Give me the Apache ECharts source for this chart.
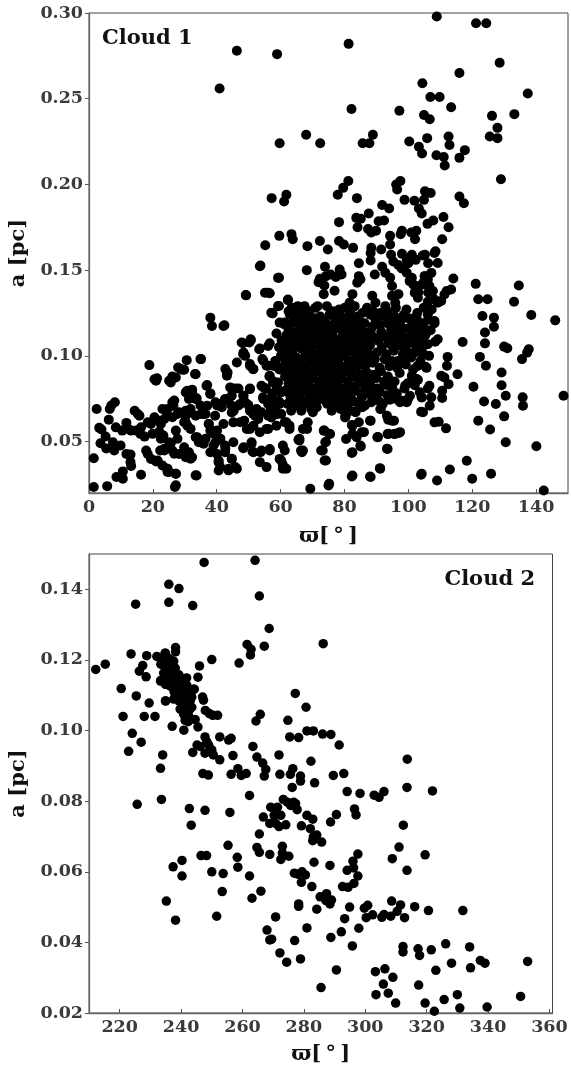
<!DOCTYPE html>
<html>
<head>
<meta charset="utf-8">
<script src="https://cdn.jsdelivr.net/npm/echarts@6/dist/echarts.min.js"></script>
<style>
html,body{margin:0;padding:0;background:#fff;}
#chart{width:571px;height:1066px;}
</style>
</head>
<body>
<div id="chart"></div>
<script>
// ---- tick labels ----
const xTicks1 = [0, 20, 40, 60, 80, 100, 120, 140];
const yTicks1 = [0.05, 0.10, 0.15, 0.20, 0.25, 0.30];
const xTicks2 = [220, 240, 260, 280, 300, 320, 340, 360];
const yTicks2 = [0.02, 0.04, 0.06, 0.08, 0.10, 0.12, 0.14];
const panelLabels = ['Cloud 1', 'Cloud 2'];
const xTitle = 'ϖ[\u2009°\u2009]';
const yTitle = 'a [pc]';

// ---- Cloud 1 : [omega (deg), a (pc)] ----
const cloud1Upper = [
[46.3,0.278],[58.9,0.276],[40.9,0.256],[59.7,0.224],[57.2,0.192],[61.8,0.194],[61.1,0.190],[59.6,0.170],[63.4,0.171],[63.8,0.168],[55.2,0.1645],
[108.9,0.298],[121.2,0.294],[124.4,0.294],[81.3,0.282],[128.6,0.271],[116.0,0.265],[104.4,0.259],[106.9,0.251],[109.8,0.251],[137.4,0.253],[113.4,0.245],[82.2,0.244],[97.2,0.243],[104.9,0.2405],[106.7,0.238],[126.2,0.240],[133.2,0.241],[127.9,0.233],[125.5,0.228],[127.9,0.227],[68.0,0.229],[72.4,0.224],[85.7,0.224],[87.8,0.224],[88.9,0.229],[100.3,0.225],[103.3,0.222],[104.3,0.218],[105.9,0.227],[112.6,0.228],[112.9,0.223],[117.7,0.220],[116.0,0.2155],[108.8,0.217],[111.1,0.216],[111.4,0.211],[129.0,0.203],[81.2,0.202],[79.6,0.198],[77.9,0.194],[83.9,0.192],[96.2,0.200],[97.5,0.202],[96.5,0.197],[98.8,0.191],[101.9,0.1905],[104.9,0.191],[105.2,0.196],[107.0,0.195],[103.3,0.186],[104.2,0.183],[116.0,0.193],[117.4,0.189],[91.8,0.188],[94.0,0.186],[87.6,0.183],[78.3,0.178],[83.7,0.1805],[85.1,0.180],[84.1,0.175],[90.7,0.1785],[92.4,0.179],[106.0,0.177],[107.8,0.179],[111.0,0.181],[112.6,0.175],[110.6,0.168],[88.4,0.172],[89.9,0.173],[87.4,0.174],[98.0,0.173],[102.5,0.173],[100.9,0.172],[94.3,0.170],[97.6,0.171],[102.1,0.168],[72.3,0.167],[68.4,0.164],[74.8,0.162],[78.3,0.167],[79.8,0.165],[82.7,0.163],[88.4,0.163],[91.5,0.162],[94.3,0.165],[108.5,0.161],[104.5,0.1585]
];
const cloud1Middle = [
[88.2,0.160],[88.2,0.1556],[94.6,0.159],[95.3,0.155],[98.0,0.1595],[99.5,0.156],[101.1,0.159],[102.3,0.156],[105.2,0.159],[106.2,0.154],[84.5,0.154],[73.9,0.152],[68.2,0.150],[72.3,0.145],[71.9,0.143],[73.7,0.141],[74.2,0.1465],[75.7,0.1475],[77.3,0.146],[78.5,0.1504],[79.1,0.1475],[76.9,0.138],[73.5,0.136],[84.5,0.1465],[85.0,0.1446],[84.0,0.1427],[89.5,0.1475],[91.8,0.152],[92.8,0.1485],[94.3,0.1456],[94.9,0.1407],[96.9,0.153],[97.9,0.151],[100.0,0.154],[99.5,0.1485],[101.1,0.1456],[102.6,0.1407],[103.1,0.137],[104.7,0.1427],[105.2,0.1465],[106.2,0.137],[82.5,0.136],[81.6,0.131],[88.7,0.135],[89.7,0.131],[94.9,0.135],[95.9,0.131],[96.9,0.136],[92.8,0.129],[91.2,0.125],
[63.9,0.127],[65.4,0.129],[67.5,0.129],[71.6,0.129],[76.3,0.126],[78.3,0.127],[81.9,0.127],[84.0,0.123],[85.6,0.125],[87.1,0.128],[89.7,0.121],[88.7,0.117],[94.3,0.121],[95.4,0.117],[96.9,0.120],[97.9,0.1165],[100.5,0.1155],[102.6,0.122],[104.7,0.117],[106.2,0.121],[67.0,0.121],[69.0,0.120],[71.1,0.119],[65.9,0.117],[72.6,0.117],[74.2,0.119],[75.7,0.1155],[77.8,0.120],[79.4,0.118],[80.9,0.117],[83.5,0.117],[85.0,0.1145],[86.6,0.1136],
[63.9,0.1136],[64.9,0.1097],[66.4,0.1116],[68.0,0.1078],[69.5,0.1116],[71.1,0.1097],[73.2,0.1087],[74.7,0.1116],[76.3,0.1078],[78.3,0.1097],[80.4,0.1116],[81.9,0.1078],[84.0,0.1097],[85.6,0.1058],[87.6,0.1078],[89.2,0.1107],[90.7,0.1087],[92.3,0.1116],[93.8,0.1078],[95.9,0.1097],[97.4,0.1078],[98.9,0.1107],[101.0,0.1078],[103.1,0.1097],[105.2,0.1068],
[112.0,0.1378],[111.3,0.1358],[113.4,0.1387],[106.1,0.1316],[108.2,0.1329],[110.3,0.132],[109.2,0.131],[107.7,0.1378],[106.6,0.1407],[104.6,0.1417],[103.0,0.1397],[102.0,0.1368],[103.0,0.1339],[102.0,0.1223],[105.1,0.1465],[106.1,0.1446],[107.2,0.1484],[108.2,0.160],[109.2,0.1542],[100.4,0.1436],[101.5,0.1417]
];
const cloud1Core = [
[63.5,0.128],[65.2,0.127],[70.9,0.128],[74.5,0.129],[80.1,0.128],[83.2,0.129],[86.9,0.127],[96.1,0.128],[99.4,0.127],[104.8,0.128],[107.3,0.127],
[62.9,0.124],[66.1,0.125],[68.7,0.124],[72.4,0.123],[75.3,0.124],[78.9,0.123],[81.6,0.124],[88.1,0.124],[92.9,0.123],[98.6,0.124],[102.8,0.125],[106.1,0.124],
[64.0,0.120],[69.8,0.121],[73.5,0.120],[80.2,0.121],[82.9,0.120],[86.3,0.119],[93.4,0.119],[97.8,0.121],[101.2,0.120],[104.5,0.119],
[62.4,0.116],[68.3,0.115],[71.2,0.116],[74.8,0.117],[78.4,0.116],[81.1,0.115],[84.2,0.116],[94.6,0.115],[99.9,0.116],[103.4,0.114],[107.0,0.115],
[61.8,0.112],[64.7,0.113],[67.5,0.112],[70.4,0.113],[73.1,0.112],[76.2,0.113],[79.5,0.112],[82.7,0.113],[85.9,0.112],[96.5,0.112],[101.7,0.113],[105.3,0.112],
[62.6,0.108],[65.9,0.107],[68.9,0.108],[71.8,0.107],[74.2,0.105],[77.7,0.108],[80.6,0.107],[83.8,0.108],[86.2,0.104],[94.8,0.106],[99.1,0.105],[104.2,0.104],
[61.2,0.104],[63.7,0.103],[66.6,0.104],[69.4,0.103],[72.8,0.104],[75.9,0.103],[78.6,0.104],[81.9,0.103],[85.1,0.101],[90.2,0.102],[95.4,0.103],[98.3,0.101],[102.1,0.102],[106.5,0.100],
[62.1,0.100],[64.9,0.099],[67.9,0.100],[70.6,0.099],[73.7,0.100],[76.5,0.099],[79.8,0.100],[83.0,0.098],[86.8,0.099],[92.6,0.098],[96.7,0.097],[100.9,0.099],[103.8,0.097],
[61.5,0.096],[63.2,0.095],[66.3,0.096],[69.1,0.095],[72.0,0.096],[74.9,0.095],[77.9,0.096],[81.2,0.094],[84.6,0.095],[88.8,0.096],[94.1,0.094],[99.2,0.095],[105.7,0.093],
[62.7,0.092],[65.4,0.091],[68.2,0.092],[71.5,0.091],[74.4,0.092],[77.3,0.090],[80.4,0.091],[83.6,0.092],[87.2,0.090],[91.4,0.091],[97.3,0.090],[101.5,0.092],
[61.4,0.088],[64.3,0.087],[67.1,0.088],[70.1,0.087],[73.3,0.088],[76.1,0.086],[79.2,0.087],[82.4,0.088],[86.0,0.086],[89.9,0.087],[95.7,0.085],[103.0,0.086],
[62.5,0.084],[65.8,0.083],[68.6,0.084],[71.9,0.083],[75.2,0.084],[78.1,0.082],[81.5,0.083],[84.9,0.084],[88.3,0.082],[93.2,0.083],[98.8,0.081],
[61.7,0.080],[64.6,0.079],[67.4,0.080],[70.8,0.079],[73.9,0.080],[77.0,0.078],[80.7,0.079],[83.3,0.080],[87.0,0.078],[91.1,0.079],[96.4,0.078],
[63.1,0.076],[66.0,0.075],[69.2,0.076],[72.6,0.075],[75.7,0.076],[78.8,0.074],[82.1,0.075],[85.5,0.076],[90.6,0.074],[94.9,0.075],
[62.2,0.072],[65.1,0.071],[68.1,0.072],[71.3,0.070],[74.6,0.072],[77.6,0.071],[81.3,0.072],[86.4,0.071],[92.0,0.072],
[56.5,0.088],[57.8,0.085],[58.9,0.081],[59.6,0.092],[58.3,0.097],[57.4,0.078],[59.1,0.074],[55.4,0.081],[56.9,0.069],[58.8,0.066],[60.1,0.100],[59.5,0.105],[60.3,0.109],[58.7,0.113]
];
const cloud1CoreFill = [
[62.5,0.126],[68.9,0.126],[77.5,0.125],[89.0,0.126],[93.5,0.126],
[64.6,0.122],[70.5,0.122],[77.0,0.122],[84.5,0.121],[90.5,0.122],[95.8,0.123],[100.0,0.122],
[63.0,0.118],[66.8,0.118],[70.0,0.117],[76.5,0.118],[82.3,0.118],[91.2,0.118],[102.0,0.117],
[66.0,0.114],[72.9,0.114],[80.0,0.114],[88.2,0.114],[91.5,0.114],[97.5,0.113],[105.8,0.114],
[62.8,0.110],[75.6,0.110],[83.0,0.111],[86.5,0.110],[94.0,0.110],[100.2,0.110],
[64.3,0.106],[70.2,0.106],[76.0,0.106],[79.2,0.105],[82.2,0.106],[88.0,0.106],[91.7,0.105],[97.0,0.106],[102.5,0.105],
[62.9,0.102],[68.0,0.102],[71.1,0.101],[74.4,0.102],[77.3,0.101],[80.5,0.102],[84.0,0.103],[87.6,0.101],[93.1,0.101],[100.0,0.102],[104.6,0.101],
[63.5,0.098],[66.2,0.098],[69.3,0.097],[72.2,0.098],[75.1,0.097],[78.2,0.098],[81.4,0.097],[85.0,0.097],[89.5,0.098],[94.8,0.097],[98.0,0.098],
[64.0,0.094],[67.6,0.094],[70.3,0.093],[73.0,0.094],[76.0,0.093],[79.0,0.094],[82.8,0.093],[86.5,0.094],[91.0,0.093],[96.5,0.093],[102.8,0.094],
[63.2,0.090],[66.7,0.090],[69.8,0.089],[72.8,0.090],[75.8,0.089],[78.7,0.089],[82.0,0.090],[85.4,0.089],[89.3,0.089],[93.6,0.088],
[63.0,0.086],[66.0,0.085],[68.8,0.086],[71.9,0.085],[74.7,0.086],[77.9,0.085],[81.0,0.085],[84.3,0.086],[88.0,0.085],[92.4,0.085],[99.8,0.084],
[63.9,0.082],[67.0,0.082],[70.2,0.081],[73.6,0.082],[76.6,0.081],[79.9,0.081],[83.1,0.082],[86.6,0.081],[90.4,0.081],[95.0,0.081],
[62.8,0.078],[65.9,0.077],[69.0,0.078],[72.3,0.077],[75.0,0.078],[78.5,0.077],[81.9,0.077],[85.1,0.078],[89.2,0.077],[93.4,0.077],
[64.2,0.074],[67.5,0.074],[70.6,0.073],[74.0,0.074],[77.2,0.073],[80.0,0.074],[83.8,0.073],[88.4,0.073],
[63.3,0.068],[66.5,0.068],[69.6,0.069],[76.0,0.068],[78.8,0.069]
];
const cloud1Lower = [
[71.1,0.0729],[70.1,0.0671],[68.5,0.0613],[67.0,0.0574],[65.9,0.0506],[67.0,0.0448],[73.7,0.0564],[75.2,0.0545],[74.2,0.0497],[73.2,0.0448],[74.2,0.039],[80.4,0.0738],[80.9,0.0671],[80.4,0.0651],[83.5,0.0671],[82.5,0.0593],[84.5,0.0613],[86.1,0.0555],[85.0,0.0477],[82.5,0.0438],[88.7,0.0767],[88.2,0.0622],[85.6,0.070],[91.2,0.069],[93.3,0.0651],[94.9,0.0622],[90.5,0.0526],[93.8,0.0545],[95.9,0.0545],[97.4,0.0555],[93.3,0.0458],[91.2,0.0341],[82.5,0.0302],[88.2,0.0293],[104.2,0.0312],[75.2,0.0254],[104.2,0.0758],[104.6,0.0671],[103.6,0.0787],[106.7,0.0709],[97.4,0.0729],[99.5,0.0729],[100.5,0.0767],[99.0,0.0826],[101.1,0.0884],[102.6,0.0865]
];
const cloud1Left = [
[1.5,0.0235],[5.7,0.024],[1.5,0.0403],[2.4,0.069],[3.2,0.058],[3.9,0.057],[3.6,0.049],[5.2,0.053],[5.4,0.046],[6.2,0.0628],[6.5,0.069],[7.0,0.071],[8.1,0.0729],[7.5,0.0496],[7.9,0.0448],[8.6,0.0293],[8.4,0.0583],[9.9,0.0477],[10.4,0.0564],[10.6,0.0283],[10.6,0.0326],[11.7,0.0609],[12.2,0.0574],[11.7,0.0428],[13.0,0.0424],[13.0,0.038],[13.2,0.0357],[13.2,0.0564],[14.3,0.068],[15.3,0.0661],[15.8,0.0651],[14.8,0.0564],[16.3,0.0583],[16.1,0.0545],[16.3,0.0306],[17.4,0.0529],[17.9,0.0448],[18.4,0.0428],[18.9,0.0946],[18.4,0.0612],[19.4,0.0603],[19.4,0.0399],[20.5,0.0864],[21.0,0.0855],[21.0,0.0384],[19.9,0.0545],[22.0,0.0622],[22.0,0.0558],[22.3,0.0448],[23.0,0.069],[23.3,0.0535],[23.6,0.0448],[23.0,0.036],[24.4,0.0651],[24.4,0.0341],[24.6,0.0322],[25.6,0.0845],[26.1,0.0729],[26.4,0.0709],[25.6,0.049],[26.1,0.0448],[26.9,0.0235],[27.2,0.0312],[27.2,0.0874],[27.9,0.0932],[27.7,0.0661],[27.7,0.0516],[28.2,0.0428],[28.7,0.0923],[29.8,0.0919],[30.3,0.0787],[30.3,0.0651],[30.3,0.0612],[29.8,0.0467],[30.3,0.0409],[30.6,0.0975],[31.3,0.0748],[31.8,0.069],[31.3,0.0438],[31.8,0.0574],[32.3,0.0787],[32.3,0.0409],[33.4,0.0893],[33.4,0.0748],[33.4,0.0525],[33.7,0.0302],[34.4,0.0496],[35.1,0.0981],[35.1,0.0661],[35.9,0.0661],[36.5,0.0516],[36.8,0.0826],[38.0,0.0781],[38.0,0.1223],[38.5,0.1174],[37.0,0.0709],[37.5,0.0603],[38.5,0.0564],[39.0,0.0477],[39.5,0.0651],[40.1,0.0564],[40.1,0.0428],[40.6,0.038],[40.6,0.0331],[41.1,0.0719],[41.1,0.0516],[42.1,0.1174],[42.1,0.0603],[42.6,0.0477],[42.6,0.0438],[43.2,0.0903],[43.2,0.0884],[42.6,0.0748],[43.7,0.0748],[43.7,0.0341],[44.7,0.081],[44.7,0.0709],[44.7,0.067],[44.7,0.0399],[45.2,0.0612],[45.2,0.0496],[46.3,0.0961],[46.3,0.0341],[46.8,0.081],[47.3,0.0719],[47.8,0.1078],[48.3,0.101],[48.3,0.0767],[48.3,0.0461],[48.6,0.0622],[49.2,0.1353],[49.9,0.0713],[50.2,0.1078],[50.4,0.0952],[50.4,0.0806],[50.6,0.1097],[50.4,0.0574],[50.9,0.0496],[51.2,0.0442],[51.4,0.0922],[51.4,0.0661],[52.5,0.069],[53.0,0.0632],[53.3,0.1039],[53.5,0.1523],[53.5,0.038],[53.7,0.0438],[54.0,0.0826],[54.3,0.0981],[54.5,0.0758],[55.1,0.1368],[55.6,0.0574],[55.6,0.0351],[56.1,0.1368],[56.1,0.1058],[56.1,0.0942],[56.6,0.0457],[56.6,0.0884],[56.6,0.0738],[57.1,0.1252],[57.1,0.0641],[57.6,0.0942],[58.2,0.069],[58.7,0.0942],[59.2,0.1455],[59.2,0.0845],[59.2,0.1291],[59.7,0.1194],[59.7,0.0719],[59.7,0.0399],[60.2,0.0661],[60.7,0.0477],[60.7,0.0364],[61.3,0.1194],[61.3,0.0448],[61.8,0.0341],[61.8,0.0612],[62.3,0.1329],[62.8,0.0593],[63.3,0.1252],[63.8,0.1078],[64.9,0.1271],[65.9,0.0516],[66.2,0.1213],[66.4,0.0448],
[53.7,0.1527],[59.5,0.1456],[56.6,0.1365],[49.1,0.1355],[59.5,0.1291],[62.3,0.1324],[57.5,0.1248],[61.1,0.1184],[42.4,0.1179],[48.2,0.1074],[50.7,0.1093],[53.5,0.1043],[56.6,0.1074],[48.4,0.102],[48.9,0.100],[50.4,0.0942],[51.5,0.0923],[54.6,0.0971],[55.6,0.0942],[58.2,0.0942],[42.7,0.0923],[43.4,0.0903],[34.9,0.0981],[29.2,0.0919],[26.1,0.088],[25.1,0.0855],[33.2,0.0894],[21.3,0.0869],[37.0,0.083],[30.8,0.0797],[32.3,0.0803],[33.7,0.0752],[38.0,0.0777],[44.2,0.0816],[45.8,0.081],[44.7,0.0768],[48.4,0.0768],[50.4,0.081],[54.6,0.0816],[54.6,0.0748],[56.1,0.0719],[57.6,0.0845],[58.7,0.0826],[60.2,0.0787],[61.8,0.102],[61.3,0.0981],[62.3,0.0942],[61.8,0.0903],[62.8,0.0865],[26.7,0.0739],[26.4,0.071],[20.5,0.0642],[22.5,0.0603],[23.6,0.0632],[24.6,0.069],[26.1,0.0642],[29.8,0.0613],[30.8,0.0593],[27.2,0.0564],[28.2,0.0671],[30.3,0.068],[31.8,0.0671],[33.4,0.0651],[34.9,0.071],[36.5,0.0661],[37.5,0.0603],[38.0,0.0564],[39.6,0.0729],[40.1,0.071],[41.6,0.070],[42.7,0.0739],[39.1,0.0545],[39.6,0.0496],[41.1,0.0516],[42.7,0.0458],[33.9,0.0525],[34.9,0.0506],[35.9,0.0487],[38.0,0.0438],[40.6,0.039],[41.1,0.0351],[44.7,0.040],[45.8,0.0351],[43.7,0.0332],[45.3,0.068],[46.8,0.071],[48.9,0.0729],[50.4,0.068],[52.0,0.0651],[54.0,0.0671],[56.1,0.0651],[57.6,0.071],[59.7,0.0729],[47.3,0.0613],[49.4,0.0574],[51.5,0.0593],[53.5,0.0555],[56.1,0.0574],[58.7,0.0593],[61.3,0.0613],[62.8,0.0574],[48.4,0.0467],[50.9,0.0487],[51.5,0.0438],[54.0,0.0448],[56.6,0.0448],[60.2,0.039],[60.7,0.0341],[22.5,0.0516],[23.6,0.0458],[25.1,0.0496],[26.7,0.0429],[27.2,0.0312],[25.1,0.0322],[24.6,0.0341],[21.5,0.039],[30.3,0.0419],[31.8,0.040],[33.4,0.0303],[27.2,0.0245]
];
const cloud1Right = [
[121.1,0.142],[121.9,0.133],[124.8,0.133],[134.6,0.141],[133.1,0.1316],[138.5,0.1238],[146.0,0.1207],[123.2,0.1232],[126.8,0.1223],[126.8,0.117],[124.0,0.1136],[124.0,0.1073],[130.0,0.1054],[131.0,0.1044],[137.7,0.1039],[137.2,0.1019],[135.6,0.0981],[122.4,0.0994],[124.3,0.0942],[117.0,0.1081],[114.1,0.1451],[129.2,0.0903],[129.2,0.0829],[130.5,0.0767],[120.4,0.082],[123.7,0.0734],[127.4,0.0719],[135.8,0.0758],[135.9,0.0709],[130.0,0.0647],[121.9,0.0622],[125.6,0.057],[148.6,0.0767],[130.5,0.0496],[140.1,0.0473],[118.3,0.0388],[125.9,0.0312],[120.0,0.0283],[113.0,0.0337],[109.0,0.0273],[104.0,0.0306],[142.4,0.0215],[91.1,0.0345],[88.0,0.0296],[82.3,0.0296],[75.0,0.0244],[69.3,0.0225],
[115.4,0.0893],[112.1,0.0942],[112.3,0.0994],[111.3,0.0874],[112.6,0.0835],[110.6,0.0796],[110.6,0.0754],[110.3,0.0884],[108.2,0.0612],[109.5,0.0616],[111.8,0.0577],[104.0,0.0674],[104.2,0.0758],[107.2,0.0758],[106.6,0.0826],[106.1,0.081],[108.4,0.1083],[109.2,0.1097],[106.1,0.1068],[108.2,0.1203],[108.2,0.119],[105.4,0.0936],[102.5,0.086],[102.0,0.0829],[99.9,0.0748],[98.0,0.0738],[96.3,0.0748],[94.2,0.0744],[97.0,0.055],[95.5,0.0544],[93.5,0.0544],[93.5,0.0457],[90.3,0.0525],[93.7,0.0628],[95.5,0.0622],[91.4,0.069],[88.0,0.0622],[85.4,0.0554],[83.8,0.0525],[85.1,0.0471],[82.3,0.0434],[82.5,0.0544],[80.5,0.0515],[80.2,0.067],[80.2,0.0641],[83.1,0.0676],[82.3,0.0597],[73.8,0.039],[72.7,0.0448],[74.0,0.0496],[73.5,0.0564],[75.5,0.0544],[66.7,0.0438],[65.6,0.0511],[68.3,0.0573]
];

// ---- Cloud 2 : [omega (deg), a (pc)] ----
const cloud2Upper = [
[212.2,0.1173],[215.3,0.1188],[220.5,0.1119],[221.1,0.104],[224.1,0.0992],[227.0,0.0967],[222.9,0.0941],[223.7,0.1217],[225.4,0.1098],[226.4,0.1168],[227.5,0.1184],[228.6,0.1152],[228.8,0.1212],[229.6,0.1078],[228.0,0.104],[231.5,0.104],[225.2,0.1358],[232.1,0.121],
[233.4,0.1188],[233.9,0.1201],[234.8,0.1219],[235.0,0.1177],[235.5,0.1191],[236.0,0.1173],
[233.4,0.1142],[234.5,0.115],[235.5,0.1131],[236.6,0.115],[237.1,0.1127],[237.7,0.1168],[238.2,0.114],[238.7,0.1121],[239.3,0.1158],[237.1,0.1186],[238.2,0.1223],[236.0,0.1414],[236.0,0.1363],[239.3,0.1402],[243.8,0.1354],
[235.0,0.1084],[237.7,0.1111],[238.7,0.1099],[239.8,0.1108],[240.3,0.1088],[241.4,0.1117],[241.4,0.1145],[241.9,0.1127],[243.0,0.1113],[244.1,0.1117],[243.5,0.1095],[239.3,0.1084],
[238.2,0.1235],[237.1,0.1012],[239.8,0.1061],[240.9,0.1001],[241.9,0.1075],[242.5,0.1057],[241.4,0.1038],[242.3,0.1025],[243.0,0.1085],[243.5,0.1066],[244.6,0.1031],[245.5,0.101],[243.8,0.0938],[245.5,0.1151],[246.0,0.1183],[247.0,0.1095],[247.3,0.1086],[247.9,0.1057],[249.2,0.1048],[250.3,0.1043],[251.9,0.1043],[250.0,0.1201],[247.5,0.1476],[245.2,0.0959],[246.2,0.0955],[247.8,0.0982],[248.4,0.0968],[249.0,0.0959],[250.0,0.0945],[250.5,0.0931],[247.8,0.0936],[247.1,0.0878],[248.9,0.0874],[252.6,0.0982],[252.6,0.0917],[255.5,0.0973],[256.3,0.0978],[256.9,0.0929],[256.3,0.0876],[258.5,0.0892],[259.6,0.0873],[261.2,0.0878],[258.9,0.1191],[261.5,0.1244],[262.8,0.123],[262.6,0.1214],[264.1,0.1482],[265.5,0.1381],[268.7,0.1289],[267.1,0.1239],[265.8,0.1046],[264.4,0.1027],[263.4,0.0955],[264.7,0.0925],[266.6,0.0908],[267.6,0.089],[267.1,0.0871],[271.9,0.0931],[272.2,0.0876],[234.0,0.0931],[233.3,0.0893],
[234.9,0.1219],[234.3,0.120],[235.9,0.1205],[235.1,0.1187],[233.8,0.1187],[236.5,0.1187],[237.6,0.1196],[238.1,0.1177],[234.3,0.1163],[235.9,0.1159],[235.4,0.1173],[237.0,0.1168],[238.1,0.1154],[239.2,0.1149],[236.8,0.114],[233.3,0.114],[234.9,0.1131],[236.5,0.1126],[238.6,0.114],[240.2,0.1126],[241.3,0.1117],[241.8,0.1149],[239.7,0.1112],[242.4,0.1103],[243.4,0.1112],[244.3,0.1117],[238.1,0.1103],[239.2,0.1094],[237.6,0.1089],[234.9,0.1084],[240.8,0.1098],[241.3,0.108],[242.4,0.108],[242.9,0.1061],[239.7,0.1061],[241.8,0.1066],[240.8,0.1047],[241.3,0.1029],[242.4,0.1043],[237.2,0.1198],[238.3,0.1159]
];
const cloud2Right = [
[286.3,0.1246],[277.2,0.1105],[280.7,0.1066],[274.8,0.1029],[275.4,0.0982],[278.3,0.098],[281.0,0.0999],[283.1,0.0999],[286.1,0.099],[288.8,0.0989],[291.5,0.0959],[282.3,0.0913],[275.6,0.0876],[278.9,0.0871],[278.9,0.0857],[276.2,0.0839],[283.5,0.0852],[289.6,0.0873],[293.0,0.0878],[294.1,0.0827],[298.3,0.0822],[302.9,0.0817],[304.5,0.0811],[306.1,0.0827],[313.7,0.0919],[313.6,0.0839],[321.9,0.0829],[276.4,0.0892],[274.6,0.0797],[276.7,0.0797]
];
const cloud2Lower = [
[225.7,0.0791],[233.6,0.0805],[242.7,0.0779],[243.3,0.0732],[247.8,0.0774],[255.9,0.0768],[262.3,0.0816],[255.3,0.0675],[246.5,0.0646],[248.3,0.0646],[258.3,0.0641],[258.5,0.0613],[237.4,0.0614],[240.3,0.0632],[240.3,0.0588],[250.0,0.060],[253.7,0.0595],[253.4,0.0544],[262.3,0.0588],[235.2,0.0517],[238.2,0.0463],[251.6,0.0474],[263.1,0.0525],[266.0,0.0545],[264.7,0.0669],[265.5,0.0655],[265.5,0.0707],[266.8,0.0755],[268.9,0.0737],[269.2,0.0783],[270.3,0.076],[270.8,0.0737],[271.9,0.0728],[272.5,0.076],[271.4,0.0783],[273.3,0.0805],[273.0,0.0672],[273.0,0.0653],[272.5,0.0635],[268.9,0.0649],[268.0,0.0435],[268.9,0.0407],[269.5,0.0409],[270.8,0.0472],[272.2,0.037],
[274.1,0.0733],[275.7,0.0788],[277.3,0.0793],[277.8,0.0776],[275.1,0.0644],[274.4,0.0344],[277.0,0.0405],[278.9,0.0353],[276.9,0.0596],[278.0,0.0593],[278.3,0.0509],[278.3,0.0502],[279.2,0.057],[279.4,0.060],[279.2,0.073],
[281.0,0.076],[282.9,0.0749],[282.1,0.0722],[288.7,0.0741],[290.6,0.0762],[296.5,0.0778],[297.0,0.0761],[283.1,0.0699],[284.2,0.0704],[282.9,0.0688],[285.8,0.0684],[297.6,0.065],[296.0,0.063],[294.1,0.0604],[296.2,0.0611],[297.6,0.0588],[296.3,0.0567],[294.4,0.0556],[292.6,0.0558],[283.3,0.0627],[288.5,0.0618],[280.5,0.0591],[282.6,0.0558],[285.3,0.0529],[287.4,0.0538],[287.2,0.0518],[289.0,0.052],[288.5,0.0509],[284.2,0.0494],[294.9,0.050],[293.3,0.0467],[292.2,0.043],[288.8,0.0414],[295.8,0.039],[297.9,0.044],[299.7,0.0497],[300.8,0.0505],[300.3,0.047],[302.4,0.0478],[305.4,0.0471],[306.1,0.0479],[308.3,0.0474],[310.4,0.0488],[311.5,0.0506],[312.8,0.047],[308.8,0.0637],[311.0,0.067],[313.6,0.0604],[312.4,0.0732],[308.6,0.0517],[316.1,0.0501],[320.6,0.049],[319.5,0.0648],[331.8,0.049],[326.2,0.0396],[328.1,0.0341],[334.0,0.0387],[312.3,0.0388],[312.3,0.0373],[317.2,0.0382],[317.7,0.0363],[321.5,0.0379],[323.0,0.0321],[337.5,0.0349],[339.0,0.0341],[334.3,0.0328],[352.9,0.0346],[303.3,0.0317],[306.4,0.0325],[309.0,0.0301],[305.9,0.0282],[285.6,0.0272],[290.6,0.0322],[303.5,0.0252],[307.5,0.0256],[309.9,0.0228],[317.4,0.0279],[319.5,0.0228],[322.5,0.0205],[325.7,0.0238],[330.0,0.0252],[330.8,0.0214],[339.7,0.0217],[350.6,0.0247],[281.0,0.0441]
];

const cloud1 = [].concat(cloud1Upper, cloud1Middle, cloud1Core, cloud1CoreFill, cloud1Lower, cloud1Left, cloud1Right);
const cloud2 = [].concat(cloud2Upper, cloud2Right, cloud2Lower);

const FONT = 'DejaVu Serif';
const labelStyle = {fontFamily: FONT, fontWeight: 'bold', fontSize: 17.5, color: '#3a3a3a'};
const nameStyle = {fontFamily: FONT, fontWeight: 'bold', fontSize: 21, color: '#111'};

function xAx(gi, min, max, ticks, gap) {
  return {
    gridIndex: gi, type: 'value', min: min, max: max,
    name: xTitle, nameLocation: 'middle', nameGap: gap, nameTextStyle: nameStyle,
    axisLine: {show: true, lineStyle: {color: '#666', width: 1.3}},
    axisTick: {show: true, inside: true, length: 4, customValues: ticks, lineStyle: {color: '#555'}},
    axisLabel: Object.assign({margin: 5, customValues: ticks, formatter: v => String(Math.round(v))}, labelStyle),
    splitLine: {show: false}
  };
}
function yAx(gi, min, max, ticks, gap) {
  return {
    gridIndex: gi, type: 'value', min: min, max: max,
    name: yTitle, nameLocation: 'middle', nameGap: gap, nameRotate: 90, nameTextStyle: nameStyle,
    axisLine: {show: true, lineStyle: {color: '#666', width: 1.3}},
    axisTick: {show: true, inside: false, length: 4, customValues: ticks, lineStyle: {color: '#555'}},
    axisLabel: Object.assign({margin: 6, customValues: ticks, formatter: v => v.toFixed(2)}, labelStyle),
    splitLine: {show: false}
  };
}

const chart = echarts.init(document.getElementById('chart'), null, {renderer: 'canvas'});
chart.setOption({
  animation: false,
  backgroundColor: '#fff',
  grid: [
    {left: 84, top: 13, width: 484, height: 480, show: true, borderColor: '#444', borderWidth: 1},
    {left: 82.5, top: 554, width: 470, height: 467, show: true, borderColor: '#444', borderWidth: 1}
  ],
  xAxis: [xAx(0, 0, 150, xTicks1, 33), xAx(1, 210, 361, xTicks2, 31)],
  yAxis: [yAx(0, 0.02, 0.30, yTicks1, 60), yAx(1, 0.02, 0.15, yTicks2, 60)],
  series: [
    {type: 'scatter', xAxisIndex: 0, yAxisIndex: 0, data: cloud1, symbol: 'circle', symbolSize: 10,
     itemStyle: {color: '#000', opacity: 1}, silent: true, large: false},
    {type: 'scatter', xAxisIndex: 1, yAxisIndex: 1, data: cloud2, symbol: 'circle', symbolSize: 9.5,
     itemStyle: {color: '#000', opacity: 1}, silent: true, large: false}
  ],
  graphic: [
    {type: 'text', left: 102, top: 28, style: {text: panelLabels[0], fontFamily: FONT, fontWeight: 'bold', fontSize: 21, fill: '#111'}},
    {type: 'text', right: 571 - 535, top: 569, style: {text: panelLabels[1], fontFamily: FONT, fontWeight: 'bold', fontSize: 21, fill: '#111'}}
  ]
});
</script>
</body>
</html>
